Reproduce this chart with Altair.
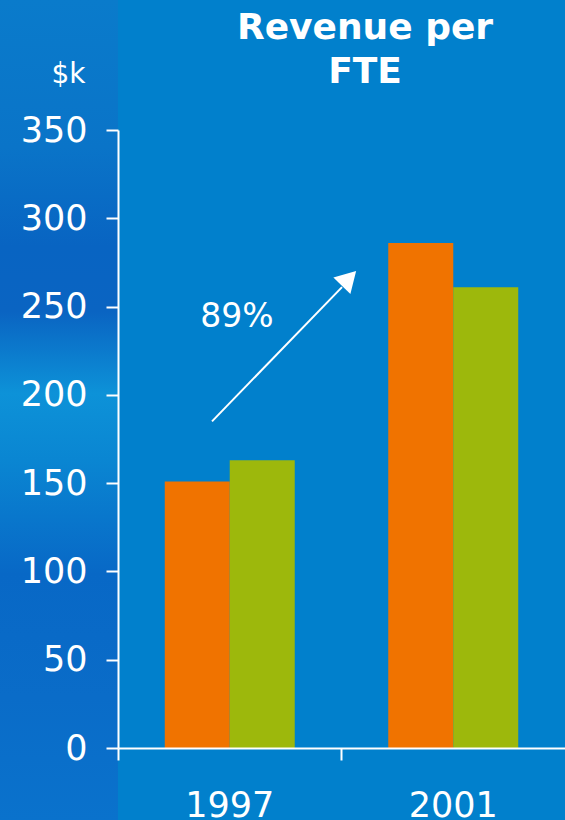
import altair as alt
import pandas as pd

years = ["1997", "2001"]
series = ["A", "B"]
orange_vals = [151, 286]
green_vals = [163, 261]
y_ticks = [0, 50, 100, 150, 200, 250, 300, 350]
colors = ["#F07300", "#9DB80C"]

arrow_y = [185, 261]        # data units, start / end of arrow shaft
arrow_head_y = [266]
label_y = [244]
label_text = ["89%"]
title_lines = ["Revenue per", "FTE"]
unit_label = "$k"

rows = []
for i, yr in enumerate(years):
    rows.append({"year": yr, "series": "A", "value": orange_vals[i]})
    rows.append({"year": yr, "series": "B", "value": green_vals[i]})
df = pd.DataFrame(rows)

one = pd.DataFrame({"k": [0]})
FONT = "DejaVu Sans"
WHITE = "#FFFFFF"

strip = alt.Chart(one).mark_rect(
    color=alt.Gradient(
        gradient="linear", x1=0, x2=0, y1=0, y2=1,
        stops=[
            alt.GradientStop(color="#0a7bcb", offset=0),
            alt.GradientStop(color="#0a74c8", offset=0.18),
            alt.GradientStop(color="#0864c2", offset=0.30),
            alt.GradientStop(color="#0a64c2", offset=0.38),
            alt.GradientStop(color="#0d92d8", offset=0.48),
            alt.GradientStop(color="#0a86d2", offset=0.56),
            alt.GradientStop(color="#0868c6", offset=0.70),
            alt.GradientStop(color="#0a6cc8", offset=0.85),
            alt.GradientStop(color="#0a72cc", offset=1),
        ],
    )
).encode(
    x=alt.value(-118), x2=alt.value(0), y=alt.value(-130), y2=alt.value(690)
)

bars = alt.Chart(df).mark_bar(size=65).encode(
    x=alt.X(
        "year:N",
        sort=years,
        scale=alt.Scale(paddingInner=0, paddingOuter=0),
        axis=alt.Axis(
            title=None, labelAngle=0, bandPosition=0, tickSize=12, tickWidth=2,
            domainWidth=2, labelPadding=28, labelFontSize=35, labelFont=FONT,
            labelColor=WHITE, domainColor=WHITE, tickColor=WHITE, zindex=1,
        ),
    ),
    xOffset=alt.XOffset("series:N", sort=series,
                        scale=alt.Scale(paddingInner=0, paddingOuter=0.72)),
    y=alt.Y(
        "value:Q",
        scale=alt.Scale(domain=[0, 350], nice=False),
        axis=alt.Axis(
            values=y_ticks, grid=False, tickSize=12, tickWidth=2, domainWidth=2,
            labelPadding=19, labelFontSize=35, labelFont=FONT, labelColor=WHITE,
            domainColor=WHITE, tickColor=WHITE, zindex=1,
            title=unit_label, titleAngle=0, titleX=-50, titleY=-48,
            titleAlign="center", titleBaseline="alphabetic", titleFont=FONT,
            titleFontSize=28, titleFontWeight="normal", titleColor=WHITE,
        ),
    ),
    color=alt.Color("series:N", sort=series,
                    scale=alt.Scale(domain=series, range=colors), legend=None),
)

arrow_df = pd.DataFrame({"y": [arrow_y[0]], "y2": [arrow_y[1]]})
shaft = alt.Chart(arrow_df).mark_rule(color=WHITE, strokeWidth=2).encode(
    x=alt.value(94), x2=alt.value(224),
    y=alt.Y("y:Q"), y2="y2:Q",
)

head = alt.Chart(pd.DataFrame({"y": arrow_head_y})).mark_point(
    shape="triangle-up", filled=True, color=WHITE, opacity=1, size=560, angle=44
).encode(x=alt.value(231), y="y:Q")

lbl = alt.Chart(pd.DataFrame({"y": label_y, "t": label_text})).mark_text(
    font=FONT, fontSize=33, color=WHITE, align="center", baseline="middle"
).encode(x=alt.value(119), y="y:Q", text="t:N")

t1 = alt.Chart(one).mark_text(
    font=FONT, fontSize=36, fontWeight="bold", color=WHITE, align="center",
    baseline="alphabetic", text=title_lines[0]
).encode(x=alt.value(247), y=alt.value(-91))
t2 = alt.Chart(one).mark_text(
    font=FONT, fontSize=36, fontWeight="bold", color=WHITE, align="center",
    baseline="alphabetic", text=title_lines[1]
).encode(x=alt.value(247), y=alt.value(-47))

chart = alt.layer(strip, bars, shaft, head, lbl, t1, t2).properties(
    width=447, height=618,
    autosize=alt.AutoSizeParams(type="none"),
    padding={"left": 118, "top": 130, "right": 0, "bottom": 72},
    background="#0180CC",
).configure_view(stroke=None)

chart.save("out.html", embed_options={"renderer": "svg", "actions": False})
